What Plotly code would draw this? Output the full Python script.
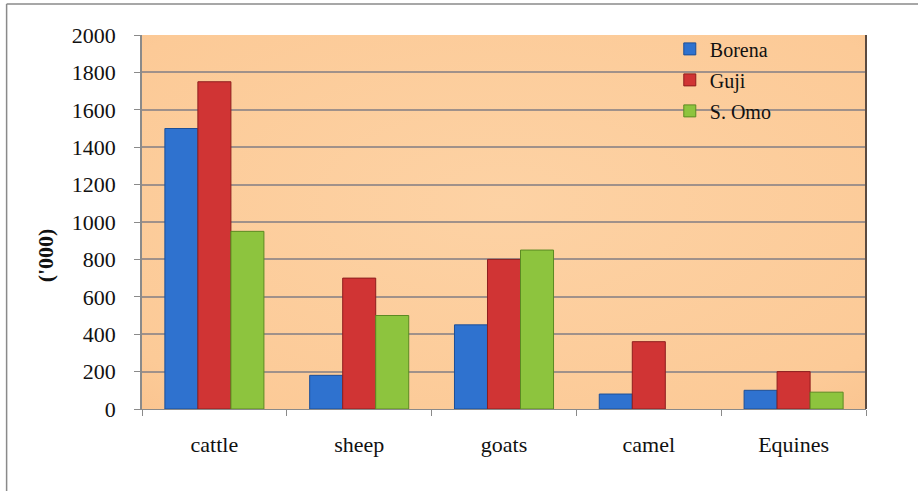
import base64
import plotly.graph_objects as go

# Livestock population by zone, thousands of head
categories = ["cattle", "sheep", "goats", "camel", "Equines"]
borena = [1500, 180, 450, 80, 100]
guji = [1750, 700, 800, 360, 200]
s_omo = [950, 500, 850, 0, 90]
y_ticks = [0, 200, 400, 600, 800, 1000, 1200, 1400, 1600, 1800, 2000]

series = [
    ("Borena", borena, "#2F72CF", "#1D4F97"),
    ("Guji", guji, "#D03434", "#8E1E1E"),
    ("S. Omo", s_omo, "#8DC43E", "#5C8A22"),
]

fig = go.Figure()
for name, vals, col, edge in series:
    fig.add_trace(go.Bar(
        x=categories, y=vals, name=name,
        marker=dict(color=col,
                    line=dict(color=edge, width=[1 if v else 0 for v in vals])),
        legendgroup=name,
    ))

# Soft peach gradient behind the plotting area
svg = (
    '<svg xmlns="http://www.w3.org/2000/svg" width="724" height="374">'
    '<defs><radialGradient id="g" cx="50%" cy="45%" r="80%">'
    '<stop offset="0%" stop-color="#FDD2A4"/>'
    '<stop offset="80%" stop-color="#FCCA97"/>'
    '<stop offset="100%" stop-color="#F9C28D"/>'
    '</radialGradient></defs>'
    '<rect width="724" height="374" fill="url(#g)"/></svg>'
)
bg_src = "data:image/svg+xml;base64," + base64.b64encode(svg.encode()).decode()

serif = "Liberation Serif"

fig.update_layout(
    width=918, height=491,
    margin=dict(l=142, r=52, t=35, b=82),
    paper_bgcolor="white",
    plot_bgcolor="rgba(0,0,0,0)",
    barmode="group",
    bargap=0.316,
    bargroupgap=0,
    font=dict(family=serif, size=22, color="#111"),
    showlegend=True,
    legend=dict(
        x=0.729, y=1.015, xanchor="left", yanchor="top",
        bgcolor="rgba(0,0,0,0)", font=dict(family=serif, size=20, color="#111"),
        traceorder="grouped", tracegroupgap=2,
        itemwidth=30,
    ),
    images=[dict(
        source=bg_src, xref="paper", yref="paper",
        x=0, y=1, sizex=1, sizey=1, sizing="stretch",
        layer="below",
    )],
    xaxis=dict(
        showline=True, linecolor="#8A8A8A", linewidth=1,
        ticks="outside", ticklen=6, tickcolor="#8A8A8A",
        tickson="boundaries", ticklabelstandoff=16,
        showgrid=False,
        tickfont=dict(family=serif, size=22, color="#111"),
    ),
    yaxis=dict(
        range=[0, 2000], tickvals=y_ticks,
        showline=True, linecolor="#8A8A8A", linewidth=1.5,
        ticks="outside", ticklen=6, tickcolor="#8A8A8A",
        ticklabelstandoff=14,
        showgrid=True, gridcolor="#A0918A", gridwidth=1.5,
        zeroline=False,
        tickfont=dict(family=serif, size=22, color="#111"),
    ),
    annotations=[dict(
        text="<b>('000)</b>", xref="paper", yref="paper",
        x=-0.133, y=0.41, xanchor="center", yanchor="middle",
        textangle=-90, showarrow=False,
        font=dict(family=serif, size=22, color="#111"),
    )],
    shapes=[
        # darker right edge of the plotting area
        dict(type="line", xref="paper", yref="paper", x0=1, x1=1, y0=0, y1=1,
             line=dict(color="#5A4A40", width=2)),
        # outer frame lines of the figure
        dict(type="line", xref="paper", yref="paper", x0=-0.187, x1=1.08,
             y0=1.083, y1=1.083, line=dict(color="#8A8A8A", width=1.5)),
        dict(type="line", xref="paper", yref="paper", x0=-0.187, x1=-0.187,
             y0=-0.25, y1=1.083, line=dict(color="#8A8A8A", width=1.5)),
    ],
)

fig.write_html("out.html")
